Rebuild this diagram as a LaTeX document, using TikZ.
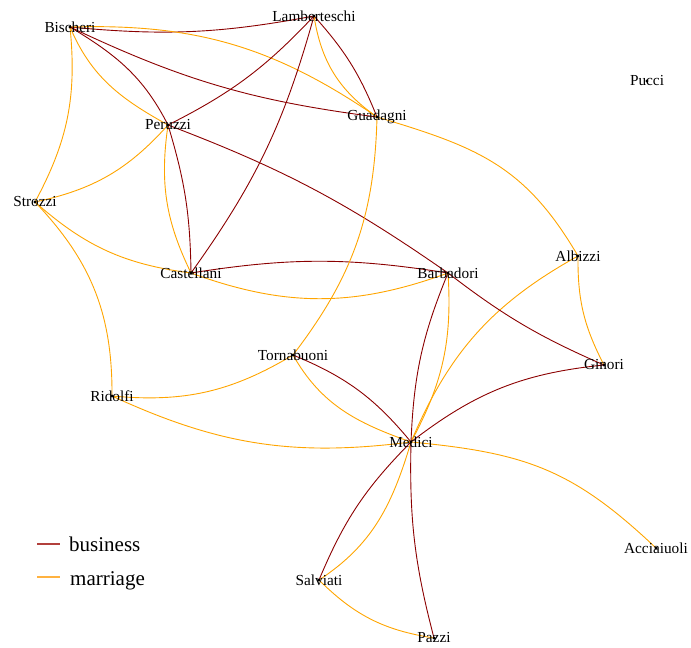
\documentclass[tikz,border=0pt]{standalone}
\usepackage{fontspec}
\setmainfont{Liberation Serif}
\definecolor{bizc}{RGB}{139,0,0}
\definecolor{marc}{RGB}{255,165,0}
\definecolor{bizleg}{RGB}{178,64,60}
\definecolor{marleg}{RGB}{255,178,64}
\begin{document}
\begin{tikzpicture}[x=1pt,y=1pt,
  biz/.style={draw=bizc,line width=0.9pt},
  mar/.style={draw=marc,line width=0.9pt},
  dot/.style={circle,fill=black,inner sep=0pt,minimum size=3.4pt},
  lbl/.style={inner sep=0pt,font=\fontsize{15.3}{17}\selectfont},
  legtxt/.style={inner sep=0pt,anchor=base west,font=\fontsize{21}{24}\selectfont},
  legline/.style={line width=2pt}]
\useasboundingbox (0,0) rectangle (691,-648);
% positions
\coordinate (bis) at (70,-27);
\coordinate (lam) at (314,-16);
\coordinate (per) at (168,-125);
\coordinate (gua) at (377,-117);
\coordinate (puc) at (647,-81);
\coordinate (str) at (35,-202);
\coordinate (cas) at (191,-273);
\coordinate (bar) at (448,-273);
\coordinate (alb) at (578,-256);
\coordinate (tor) at (293,-355);
\coordinate (gin) at (604,-365);
\coordinate (rid) at (112,-396);
\coordinate (med) at (411,-442);
\coordinate (acc) at (656,-548);
\coordinate (sal) at (319,-580);
\coordinate (paz) at (434,-638);
% edges
\draw[biz] (bis) to[bend right=8] (lam);
\draw[mar] (bis) to[bend left=18] (gua);
\draw[biz] (bis) to[bend right=9] (gua);
\draw[biz] (bis) to[out=14,in=162,relative] (per);
\draw[mar] (bis) to[out=-22,in=196,relative] (per);
\draw[mar] (bis) to[bend left=17] (str);
\draw[biz] (lam) to[bend left=10] (per);
\draw[biz] (lam) to[bend left=10] (cas);
\draw[biz] (lam) to[bend left=10] (gua);
\draw[mar] (lam) to[bend right=23] (gua);
\draw[mar] (per) to[bend left=18] (str);
\draw[biz] (per) to[bend left=8] (cas);
\draw[mar] (per) to[bend right=17] (cas);
\draw[biz] (per) to[bend left=7] (bar);
\draw[mar] (str) to[bend right=17] (cas);
\draw[mar] (str) to[bend left=22] (rid);
\draw[biz] (cas) to[bend left=9] (bar);
\draw[mar] (cas) to[bend right=20] (bar);
\draw[mar] (gua) to[bend left=18] (tor);
\draw[mar] (gua) to[out=18,in=155,relative,looseness=1.1] (alb);
\draw[mar] (alb) to[bend right=14] (gin);
\draw[mar] (alb) to[bend right=19] (med);
\draw[biz] (bar) to[bend right=10] (med);
\draw[mar] (bar) to[bend left=16] (med);
\draw[biz] (bar) to[bend right=7] (gin);
\draw[biz] (tor) to[bend left=14] (med);
\draw[mar] (tor) to[out=-24,in=197,relative] (med);
\draw[mar] (tor) to[bend left=18] (rid);
\draw[mar] (rid) to[bend right=16] (med);
\draw[biz] (med) to[bend left=16] (gin);
\draw[mar] (med) to[out=18,in=160,relative,looseness=1.1] (acc);
\draw[biz] (med) to[bend right=11] (sal);
\draw[mar] (med) to[out=17,in=157,relative] (sal);
\draw[biz] (med) to[bend right=8] (paz);
\draw[mar] (sal) to[bend right=18] (paz);
% labels
\node[lbl] (bisL) at (bis) {Bischeri};
\node[lbl] (lamL) at (lam) {Lamberteschi};
\node[lbl] (perL) at (per) {Peruzzi};
\node[lbl] (guaL) at (gua) {Guadagni};
\node[lbl] (pucL) at (puc) {Pucci};
\node[lbl] (strL) at (str) {Strozzi};
\node[lbl] (casL) at (cas) {Castellani};
\node[lbl] (barL) at (bar) {Barbadori};
\node[lbl] (albL) at (alb) {Albizzi};
\node[lbl] (torL) at (tor) {Tornabuoni};
\node[lbl] (ginL) at (gin) {Ginori};
\node[lbl] (ridL) at (rid) {Ridolfi};
\node[lbl] (medL) at (med) {Medici};
\node[lbl] (accL) at (acc) {Acciaiuoli};
\node[lbl] (salL) at (sal) {Salviati};
\node[lbl] (pazL) at (paz) {Pazzi};
% dots
\foreach \n in {bis,lam,per,gua,puc,str,cas,bar,alb,tor,gin,rid,med,acc,sal,paz}
  \node[dot] (\n D) at (\n) {};
% legend
\coordinate (lb1) at (37,-544);
\coordinate (lb2) at (60,-544);
\coordinate (lm1) at (37,-577);
\coordinate (lm2) at (60,-577);
\draw[legline,draw=bizleg] (lb1) -- (lb2);
\draw[legline,draw=marleg] (lm1) -- (lm2);
\node[legtxt] (legB) at (69,-551.5) {business};
\node[legtxt] (legM) at (70,-585) {marriage};
\end{tikzpicture}
\end{document}
